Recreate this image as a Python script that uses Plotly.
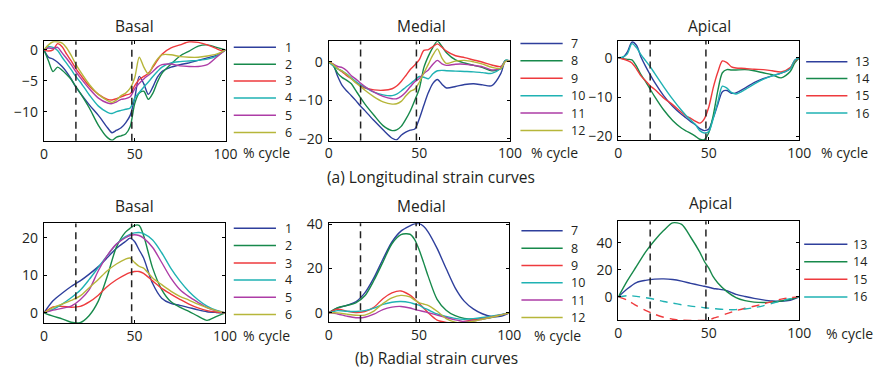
import plotly.graph_objects as go

W, H = 881, 376

# ---------------- data ----------------
X_LONG = [0, 2.5, 5, 7.5, 10, 12.5, 15, 17.5, 20, 25, 30, 35, 37.5, 40, 42.5, 45, 47.5,
          50, 52.5, 55, 57.5, 60, 62.5, 65, 70, 75, 80, 85, 90, 95, 97.5, 100]
X_RAD = [0, 5, 10, 15, 20, 25, 30, 35, 40, 45, 47.5, 50, 52.5, 55, 60, 65, 70, 75, 80, 85, 90, 95, 100]

LONG_BASAL = [
    [0, -1.2, -1.5, -2.0, -2.7, -3.6, -4.7, -6.0, -7.0, -8.9, -10.6, -12.6, -13.4, -13.0, -12.6, -11.8, -10.6, -7.8, -4.3, -5.5, -7.2, -6.0, -4.4, -3.5, -2.8, -2.4, -2.1, -1.7, -1.3, -0.9, -0.5, 0],
    [0, -1.8, -3.5, -2.8, -3.3, -4.0, -4.8, -5.9, -7.0, -9.4, -12.2, -14.2, -14.6, -14.1, -13.9, -13.6, -12.4, -8.7, -7.0, -6.7, -8.0, -7.0, -5.2, -3.8, -2.3, -1.0, -0.2, 0.6, 0.8, 0.4, 0.2, 0],
    [0, -0.2, 0.0, 1.0, 0.5, -0.7, -1.8, -3.0, -4.0, -5.9, -7.2, -8.0, -8.1, -7.9, -7.6, -7.3, -7.1, -5.8, -4.8, -4.3, -3.8, -2.8, -1.7, -0.7, 0.3, 0.8, 1.3, 1.2, 0.8, 0.2, -0.1, 0],
    [0, 0.5, 0.4, -0.1, -1.2, -2.2, -3.2, -4.3, -5.2, -7.3, -9.1, -10.1, -10.3, -10.0, -9.8, -9.6, -9.4, -7.8, -6.9, -6.0, -5.2, -4.3, -3.5, -2.8, -2.1, -1.9, -1.8, -1.7, -1.5, -1.0, -0.5, 0],
    [0, 0.3, 0.2, 0.4, -0.5, -1.4, -2.4, -3.5, -4.5, -6.3, -7.8, -8.6, -8.7, -8.4, -8.0, -7.9, -7.6, -6.3, -5.4, -4.7, -4.1, -3.5, -2.8, -2.4, -2.3, -2.6, -2.7, -2.7, -2.4, -1.2, -0.6, 0],
    [0, 0.8, 1.3, 1.3, 1.1, 0.3, -0.9, -2.3, -3.5, -5.6, -7.2, -8.2, -8.5, -8.1, -7.4, -7.0, -6.2, -4.5, -1.2, -2.8, -3.9, -2.6, -1.5, -0.8, -0.8, -1.1, -1.2, -1.2, -1.0, -0.7, -0.4, 0],
]
LONG_MEDIAL = [
    [0, -0.8, -3.8, -6.2, -7.6, -8.8, -10.1, -11.5, -12.7, -15.3, -17.7, -19.9, -20.3, -19.1, -18.3, -17.8, -17.5, -14.8, -11.3, -8.0, -5.6, -4.6, -5.8, -6.8, -6.4, -5.9, -5.7, -6.0, -6.2, -3.0, 0.3, 0.3],
    [0, -1.0, -3.0, -4.1, -4.8, -5.7, -7.5, -9.3, -11.0, -13.9, -16.6, -17.9, -17.7, -16.8, -15.0, -12.8, -10.0, -7.0, -1.5, 1.5, 3.8, 5.4, 4.0, 2.4, 0.5, -0.3, -0.9, -1.5, -2.3, -1.8, 0.4, 0.2],
    [0, -0.6, -1.8, -2.6, -3.6, -4.4, -5.3, -6.2, -6.8, -7.3, -7.4, -7.0, -6.3, -5.1, -3.6, -2.0, -0.8, 0.6, 3.0, 3.2, 4.0, 4.7, 3.8, 2.8, 1.6, 1.1, 0.5, -0.1, -0.8, -1.2, 0.3, 0.2],
    [0, -1.0, -1.8, -2.4, -3.2, -4.2, -5.1, -5.9, -6.6, -7.9, -8.6, -8.8, -8.4, -7.6, -6.6, -5.7, -4.7, -3.8, -4.0, -4.4, -3.1, -2.3, -2.2, -2.3, -2.4, -2.5, -2.6, -2.8, -3.0, -1.6, 0.4, 0.2],
    [0, -0.6, -1.2, -1.5, -2.3, -3.6, -4.5, -5.5, -6.4, -7.9, -9.0, -9.6, -9.6, -9.0, -7.9, -6.5, -5.2, -4.3, -3.0, -2.1, -0.6, 0.4, -0.5, -0.9, -0.6, -0.6, -0.9, -1.3, -2.1, -1.6, 0.1, 0.2],
    [0, -0.7, -1.8, -2.4, -3.3, -4.4, -5.5, -6.4, -7.4, -9.1, -10.4, -11.0, -10.9, -10.3, -8.9, -7.7, -7.1, -5.3, -2.9, -0.6, 1.8, 3.4, 1.0, -0.4, 0.2, 0.4, 0.0, -0.6, -1.4, -1.7, 0.1, 0.2],
]
LONG_APICAL = [
    [0, 0.1, 1.5, 4.0, 3.2, 0.2, -2.1, -4.2, -6.2, -9.6, -12.3, -14.4, -15.3, -16.2, -17.0, -18.0, -18.5, -18.1, -15.2, -11.8, -8.6, -8.3, -9.0, -8.9, -7.7, -6.3, -5.3, -4.6, -3.9, -2.8, -0.6, 0],
    [0, -0.2, -0.4, -0.5, -2.1, -4.3, -6.0, -7.9, -9.8, -13.2, -15.9, -17.9, -18.6, -19.2, -19.9, -20.7, -20.8, -19.0, -14.5, -8.3, -3.8, -3.0, -3.1, -3.1, -3.0, -3.3, -3.8, -4.3, -5.1, -3.5, -1.3, 0],
    [0, -0.3, -0.7, -1.3, -2.8, -4.6, -5.8, -7.1, -8.0, -10.2, -11.9, -13.9, -14.8, -15.4, -16.1, -16.6, -15.5, -12.5, -7.5, -3.6, -0.8, -1.2, -2.3, -2.6, -2.7, -2.9, -3.0, -3.3, -3.6, -2.5, -0.8, 0],
    [0, 0.2, 1.0, 3.6, 2.6, 0.8, -0.7, -2.2, -3.9, -7.3, -10.5, -13.4, -14.7, -15.8, -16.9, -18.5, -19.1, -18.7, -15.3, -11.2, -7.2, -7.7, -8.8, -9.2, -8.1, -6.7, -5.5, -4.6, -3.9, -2.8, -0.6, 0],
]
RAD_BASAL = [
    [0, 3.2, 5.2, 7.0, 8.5, 10.3, 12.3, 14.7, 17.2, 19.0, 19.9, 19.0, 16.8, 14.6, 7.8, 3.9, 2.5, 2.0, 1.4, 0.8, 0.3, 0.1, 0],
    [0, -0.9, -1.6, -2.5, -2.6, -0.7, 3.1, 9.8, 17.5, 21.5, 22.5, 23.3, 23.3, 20.6, 11.9, 6.2, 3.0, 1.5, 0.4, -0.9, -2.0, -1.0, 0],
    [0, 1.6, 1.7, 1.5, 1.7, 2.9, 4.7, 7.0, 8.8, 10.2, 10.7, 11.0, 11.0, 10.5, 8.5, 6.5, 5.0, 3.6, 2.3, 1.3, 0.6, 0.2, 0],
    [0, 0.9, 2.3, 4.0, 6.0, 8.9, 12.1, 15.3, 18.3, 20.3, 20.9, 21.3, 21.4, 21.1, 19.4, 16.0, 11.9, 8.5, 5.7, 3.5, 1.8, 0.7, 0],
    [0, 0.7, 1.2, 1.8, 3.5, 6.2, 11.2, 15.3, 18.3, 20.0, 20.6, 20.8, 20.6, 19.9, 17.4, 13.4, 9.3, 6.2, 4.3, 2.8, 1.4, 0.5, 0],
    [0, 1.4, 2.3, 3.3, 4.5, 6.7, 8.9, 11.2, 13.0, 14.3, 14.6, 13.4, 12.4, 11.9, 9.3, 7.5, 5.8, 4.4, 3.4, 2.3, 1.4, 0.6, 0],
]
RAD_MEDIAL = [
    [0, 2.2, 3.4, 5.0, 9.0, 15.8, 24.2, 32.0, 36.9, 39.3, 40.2, 40.3, 39.1, 36.6, 29.1, 20.0, 11.3, 5.3, 1.8, -0.4, -1.6, -1.6, 0],
    [0, 2.3, 3.3, 4.5, 7.7, 14.6, 22.9, 31.2, 35.3, 35.5, 33.2, 28.6, 22.8, 16.7, 6.1, 1.2, -1.3, -2.5, -2.9, -2.7, -2.1, -1.1, 0],
    [0, 1.6, 0.8, 0.1, 0.6, 2.5, 6.4, 9.0, 9.9, 8.0, 6.3, 4.3, 2.2, 0.1, -3.3, -4.3, -4.6, -3.9, -3.1, -2.4, -1.7, -0.9, 0],
    [0, 1.0, 0.7, 0.6, 1.0, 2.1, 3.8, 4.8, 5.1, 4.6, 4.0, 3.5, 2.3, 1.4, -0.5, -1.6, -2.5, -2.9, -2.6, -2.1, -1.5, -0.8, 0],
    [0, -0.5, -1.5, -2.2, -2.0, -0.6, 1.5, 2.6, 2.9, 2.2, 1.6, 1.1, 0.6, 0.1, -1.0, -2.1, -3.2, -3.9, -3.7, -2.9, -2.0, -1.0, 0],
    [0, 0.0, -0.6, -1.1, -1.0, 0.8, 4.2, 6.8, 7.9, 7.2, 5.8, 4.6, 4.0, 3.4, 0.7, -2.6, -4.2, -4.4, -3.8, -2.9, -2.0, -1.0, 0],
]
RAD_APICAL = [
    [0, 6.0, 10.6, 12.2, 13.1, 13.3, 12.8, 11.6, 10.0, 8.5, 7.8, 7.1, 6.2, 5.8, 4.6, 1.9, 0.3, -1.1, -2.2, -3.0, -3.2, -2.5, 0],
    [0, 12.0, 22.5, 33.0, 41.6, 48.9, 54.6, 53.5, 44.0, 33.0, 26.3, 21.2, 14.7, 10.3, 3.9, -0.5, -2.8, -3.9, -4.2, -3.9, -3.0, -1.8, 0],
    [0, -2.5, -6.5, -10.0, -12.8, -15.0, -16.5, -17.2, -17.4, -17.4, -17.3, -17.0, -15.8, -14.8, -12.3, -10.2, -8.4, -6.9, -5.3, -3.4, -1.7, -0.6, 0],
    [0, 0.9, 0.4, -0.6, -1.8, -3.4, -4.6, -5.8, -6.8, -7.5, -8.0, -8.3, -8.7, -8.9, -9.4, -9.4, -8.9, -8.0, -6.6, -4.8, -3.0, -1.3, 0],
]
RAD_APICAL_DASHED = [False, False, True, True]

LABELS_BASAL = ["1", "2", "3", "4", "5", "6"]
LABELS_MEDIAL = ["7", "8", "9", "10", "11", "12"]
LABELS_APICAL = ["13", "14", "15", "16"]
COLORS = ["#2e3f9c", "#17894b", "#ee3a3d", "#1fb2b3", "#ad3ca6", "#b6b63a"]
EVENTS = [17.6, 48.4]
X_TICKS = [0, 50, 100]

for arr in LONG_BASAL + LONG_MEDIAL + LONG_APICAL:
    assert len(arr) == len(X_LONG)
for arr in RAD_BASAL + RAD_MEDIAL + RAD_APICAL:
    assert len(arr) == len(X_RAD)

# ---------------- layout helpers ----------------
FONT = "Open Sans"
TXT = "#231f20"


def px(x):
    return x / W


def py(y):
    return 1 - y / H


panels = [
    dict(title="Basal", x=X_LONG, ys=LONG_BASAL, labels=LABELS_BASAL, yr=[-14.7, 1.4], yt=[-10, -5, 0],
         box=(40.7, 225.6, 33.6, 137.6), leg=(234, 277, 284, [40, 57.7, 75.2, 92.9, 110.9, 129.1]),
         tpos=(133, 18), cyc=(241, 150)),
    dict(title="Medial", x=X_LONG, ys=LONG_MEDIAL, labels=LABELS_MEDIAL, yr=[-20.5, 5.4], yt=[-20, -10, 0],
         box=(330.7, 515.3, 33.6, 137.4), leg=(526, 569, 575, [36, 54, 72.3, 90.7, 108.7, 127]),
         tpos=(425, 18), cyc=(535, 150)),
    dict(title="Apical", x=X_LONG, ys=LONG_APICAL, labels=LABELS_APICAL, yr=[-21, 4.3], yt=[-20, -10, 0],
         box=(625.7, 810, 33.3, 137.3), leg=(817, 859, 865, [55, 72.7, 90.7, 108.7]),
         tpos=(719, 18), cyc=(830, 150)),
    dict(title="Basal", x=X_RAD, ys=RAD_BASAL, labels=LABELS_BASAL, yr=[-2.8, 23.8], yt=[0, 10, 20],
         box=(40.7, 225.2, 224, 328.3), leg=(234, 277, 284, [229, 247, 265.3, 283, 301, 319]),
         tpos=(133, 206), cyc=(241, 340.5)),
    dict(title="Medial", x=X_RAD, ys=RAD_MEDIAL, labels=LABELS_MEDIAL, yr=[-4.3, 40.5], yt=[0, 20, 40],
         box=(330.7, 514.7, 223.7, 327.3), leg=(527, 569, 575, [231.7, 250, 268, 286, 304, 322.3]),
         tpos=(425, 206), cyc=(538, 340.5)),
    dict(title="Apical", x=X_RAD, ys=RAD_APICAL, labels=LABELS_APICAL, yr=[-17.4, 55.8], yt=[0, 20, 40],
         box=(625.7, 810, 221.7, 325.3), leg=(815, 859, 863, [245.7, 264, 282.3, 300.7]),
         tpos=(720, 203), cyc=(835, 339), dashed=RAD_APICAL_DASHED),
]

fig = go.Figure()
shapes = []
annotations = []
layout_axes = {}

for i, p in enumerate(panels, start=1):
    xa = "x" if i == 1 else f"x{i}"
    ya = "y" if i == 1 else f"y{i}"
    xkey = "xaxis" if i == 1 else f"xaxis{i}"
    ykey = "yaxis" if i == 1 else f"yaxis{i}"
    x0, x1, y0, y1 = p["box"]
    dashed = p.get("dashed", [False] * len(p["ys"]))
    for k, (ys, lab) in enumerate(zip(p["ys"], p["labels"])):
        fig.add_trace(go.Scatter(
            x=p["x"], y=ys, name=lab, mode="lines", xaxis=xa, yaxis=ya,
            line=dict(color=COLORS[k], width=1.4, shape="spline", smoothing=0.8,
                      dash="8px,6px" if dashed[k] else "solid"),
            showlegend=False, hoverinfo="skip"))
    common = dict(showline=True, linecolor="black", linewidth=1.2, mirror="ticks",
                  ticks="inside", ticklen=3, tickcolor="black", tickwidth=1,
                  showgrid=False, zeroline=False,
                  tickfont=dict(family=FONT, size=14, color=TXT))
    layout_axes[xkey] = dict(domain=[px(x0), px(x1)], range=[0, 100], tickvals=X_TICKS,
                             anchor=ya, **common)
    layout_axes[ykey] = dict(domain=[py(y1), py(y0)], range=p["yr"], tickvals=p["yt"],
                             anchor=xa, ticklabelstandoff=2, **common)
    # event dashed lines
    for ev in EVENTS:
        shapes.append(dict(type="line", xref=xa, yref=f"{ya} domain", x0=ev, x1=ev, y0=0, y1=1,
                           line=dict(color="#222", width=1.5, dash="7px,5px")))
    # manual legend
    lx0, lx1, tx, rows = p["leg"]
    for k, (lab, ry) in enumerate(zip(p["labels"], rows)):
        shapes.append(dict(type="line", xref="paper", yref="paper", x0=px(lx0), x1=px(lx1),
                           y0=py(ry), y1=py(ry), line=dict(color=COLORS[k], width=1.5)))
        annotations.append(dict(text=lab, xref="paper", yref="paper", x=px(tx), y=py(ry),
                                xanchor="left", yanchor="middle", showarrow=False,
                                font=dict(family=FONT, size=12.5, color=TXT)))
    # title
    annotations.append(dict(text=p["title"], xref="paper", yref="paper", x=px(p["tpos"][0]),
                            y=py(p["tpos"][1]), xanchor="center", yanchor="middle", showarrow=False,
                            font=dict(family=FONT, size=15.5, color=TXT)))
    annotations.append(dict(text="% cycle", xref="paper", yref="paper", x=px(p["cyc"][0]),
                            y=py(p["cyc"][1]), xanchor="left", yanchor="middle", showarrow=False,
                            font=dict(family=FONT, size=14, color=TXT)))

annotations.append(dict(text="(a) Longitudinal strain curves", xref="paper", yref="paper",
                        x=px(435), y=py(175), xanchor="center", yanchor="middle", showarrow=False,
                        font=dict(family=FONT, size=15.5, color=TXT)))
annotations.append(dict(text="(b) Radial strain curves", xref="paper", yref="paper",
                        x=px(440), y=py(365), xanchor="center", yanchor="middle", showarrow=False,
                        font=dict(family=FONT, size=15.5, color=TXT)))

fig.update_layout(width=W, height=H, margin=dict(l=0, r=0, t=0, b=0),
                  paper_bgcolor="white", plot_bgcolor="white", showlegend=False,
                  shapes=shapes, annotations=annotations, **layout_axes)

fig.write_html("out.html")
